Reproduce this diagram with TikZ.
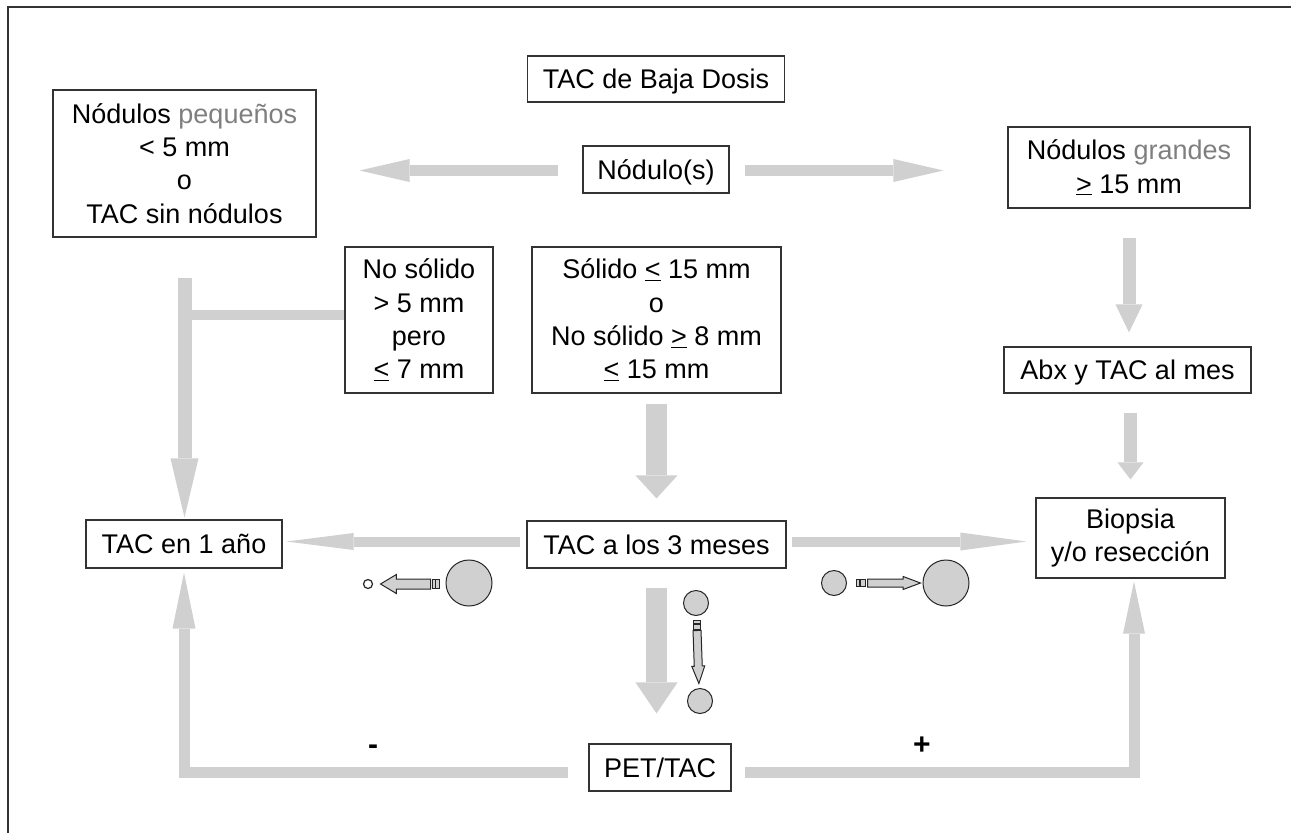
\documentclass[tikz,border=0pt]{standalone}
\usepackage{xcolor}
\usepackage{fontspec}
\setmainfont{Liberation Sans}
\usetikzlibrary{arrows.meta,shapes.arrows}
\definecolor{flowgray}{HTML}{D0D0D0}
\definecolor{softgray}{HTML}{7F7F7F}
\definecolor{edgegray}{HTML}{333333}
\tikzset{
    boxnode/.style={draw=edgegray, line width=1.1pt, inner sep=0pt, align=center,
                    font=\fontsize{27}{33.3}\selectfont},
    oneline/.style={boxnode, text height=19.5pt, text depth=0pt},
    signnode/.style={inner sep=0pt, font=\fontsize{30}{30}\bfseries\selectfont},
    blockarrow/.style n args={3}{color=flowgray, line width=#1, line join=miter,
                    -{Triangle[length=#2,width=#3,line width=0pt,fill=flowgray]}},
    blob/.style={circle, draw=black!85, fill=flowgray, line width=1pt, inner sep=0pt},
    growarrow/.style={single arrow, draw=black!85, fill=flowgray, line width=1pt,
                    inner xsep=0pt, single arrow head indent=0pt, anchor=tail},
    tailbox/.style={draw=black!85, fill=flowgray, line width=1pt, inner sep=0pt}
}
\begin{document}
\begin{tikzpicture}[x=1pt,y=-1pt]
        \useasboundingbox (0,0) rectangle (1291,833);
        \draw[edgegray, line width=1.1pt] (8,833) -- (8,7) -- (1291,7);

        % boxes
        \node[oneline, minimum width=257pt, minimum height=46pt] (baja) at (656,79) {TAC de Baja Dosis};
        \node[boxnode, minimum width=263pt, minimum height=147pt] (pequenos) at (184.5,163.5)
            {N\'odulos \textcolor{softgray}{peque\~nos}\\< 5 mm\\o\\TAC sin n\'odulos};
        \node[oneline, minimum width=146pt, minimum height=47pt] (nodulo) at (656,169.5) {N\'odulo(s)};
        \node[boxnode, minimum width=242pt, minimum height=81pt] (grandes) at (1129,167.5)
            {N\'odulos \textcolor{softgray}{grandes}\\\underline{>} 15 mm};
        \node[boxnode, minimum width=148pt, minimum height=146pt] (nosolido) at (419,320)
            {No s\'olido\\> 5 mm\\pero\\\underline{<} 7 mm};
        \node[boxnode, minimum width=249pt, minimum height=146pt] (solido) at (656.5,320)
            {S\'olido \underline{<} 15 mm\\o\\No s\'olido \underline{>} 8 mm\\\underline{<} 15 mm};
        \node[oneline, minimum width=247pt, minimum height=46pt] (abx) at (1127.5,370) {Abx y TAC al mes};
        \node[boxnode, minimum width=189pt, minimum height=80pt] (biopsia) at (1130.5,538) {Biopsia\\y/o resecci\'on};
        \node[oneline, minimum width=196pt, minimum height=48pt] (anio) at (184,544) {TAC en 1 a\~no};
        \node[oneline, minimum width=259pt, minimum height=47pt] (tres) at (656.5,544.5) {TAC a los 3 meses};
        \node[oneline, minimum width=142pt, minimum height=47pt] (pet) at (660,767.5) {PET/TAC};

        % top row
        \draw[blockarrow={11pt}{50pt}{23pt}, shorten <=24pt, shorten >=43pt] ([yshift=-1pt]nodulo.west) -- ([yshift=-1pt]nodulo.west -| pequenos.east);
        \draw[blockarrow={11pt}{50pt}{23pt}, shorten <=15pt, shorten >=64pt] ([yshift=-1pt]nodulo.east) -- ([yshift=-1pt]nodulo.east -| grandes.west);

        % left and right columns
        \coordinate (ramal) at ([yshift=5pt]nosolido.west);
        \draw[flowgray, line width=10pt] (ramal) -- (ramal -| anio.north);
        \draw[blockarrow={14pt}{59pt}{28pt}, shorten <=40pt, shorten >=2pt] (pequenos.south) -- (pequenos.south |- anio.north);
        \draw[blockarrow={13pt}{28pt}{27pt}, shorten <=29pt, shorten >=14pt] (grandes.south) -- (grandes.south |- abx.north);
        \draw[blockarrow={13pt}{17pt}{26pt}, shorten <=19pt, shorten >=18pt] (biopsia.north |- abx.south) -- (biopsia.north);

        % middle row
        \draw[blockarrow={21pt}{23pt}{42pt}, shorten <=10pt, shorten >=22pt] (solido.south) -- (solido.south |- tres.north);
        \draw[blockarrow={10pt}{67pt}{17pt}, shorten <=6pt, shorten >=4pt] ([yshift=3pt]tres.west) -- ([yshift=3pt]tres.west -| anio.east);
        \draw[blockarrow={10pt}{66pt}{18pt}, shorten <=5pt, shorten >=9pt] ([yshift=3pt]tres.east) -- ([yshift=3pt]tres.east -| biopsia.west);
        \draw[blockarrow={21pt}{31pt}{42pt}, shorten <=19pt, shorten >=30pt] (tres.south) -- (tres.south |- pet.north);

        % PET/TAC back up
        \draw[blockarrow={11pt}{56pt}{23pt}, shorten <=20pt, shorten >=4pt] ([yshift=-4.5pt]pet.west) -| (anio.south);
        \draw[blockarrow={11pt}{52pt}{22pt}, shorten <=13pt, shorten >=3pt] ([yshift=-4.5pt]pet.east) -| ([xshift=3.5pt]biopsia.south);
        \node[signnode] (menos) at (373,750) {-};
        \node[signnode] (mas) at (922,746) {+};

        % size change pictograms
        \node[blob, minimum size=46pt] (grandeA) at (469,583) {};
        \node[blob, fill=white, line width=1.2pt, minimum size=9pt] (chico) at (368,584) {};
        \node[growarrow, minimum height=50pt, minimum width=18pt, inner ysep=4.5pt,
              single arrow head extend=4.5pt, single arrow tip angle=62, rotate=180] (baja1) at (431,584) {};
        \foreach \tx/\tw in {433.5/3,437.5/4}
            \node[tailbox, minimum width=\tw pt, minimum height=9pt] at (\tx,584) {};

        \node[blob, minimum size=25pt] (medioB) at (834,583) {};
        \node[blob, minimum size=46pt] (grandeB) at (946,583) {};
        \node[growarrow, minimum height=53pt, minimum width=12pt, inner ysep=3.5pt,
              single arrow head extend=2.5pt, single arrow tip angle=41] (sube) at (867,583) {};
        \foreach \tx/\tw in {858/3,863/5}
            \node[tailbox, minimum width=\tw pt, minimum height=7pt] at (\tx,583) {};

        \node[blob, minimum size=25pt] (medioC) at (696,603) {};
        \node[blob, minimum size=25pt] (medioD) at (700,701) {};
        \node[growarrow, minimum height=53pt, minimum width=12pt, inner ysep=3.5pt,
              single arrow head extend=2.5pt, single arrow tip angle=41, rotate=-88] (igual) at (697,630) {};
        \foreach \ty/\th in {621.5/3,626.5/5}
            \node[tailbox, minimum width=7pt, minimum height=\th pt] at (697,\ty) {};
    \end{tikzpicture}
\end{document}
